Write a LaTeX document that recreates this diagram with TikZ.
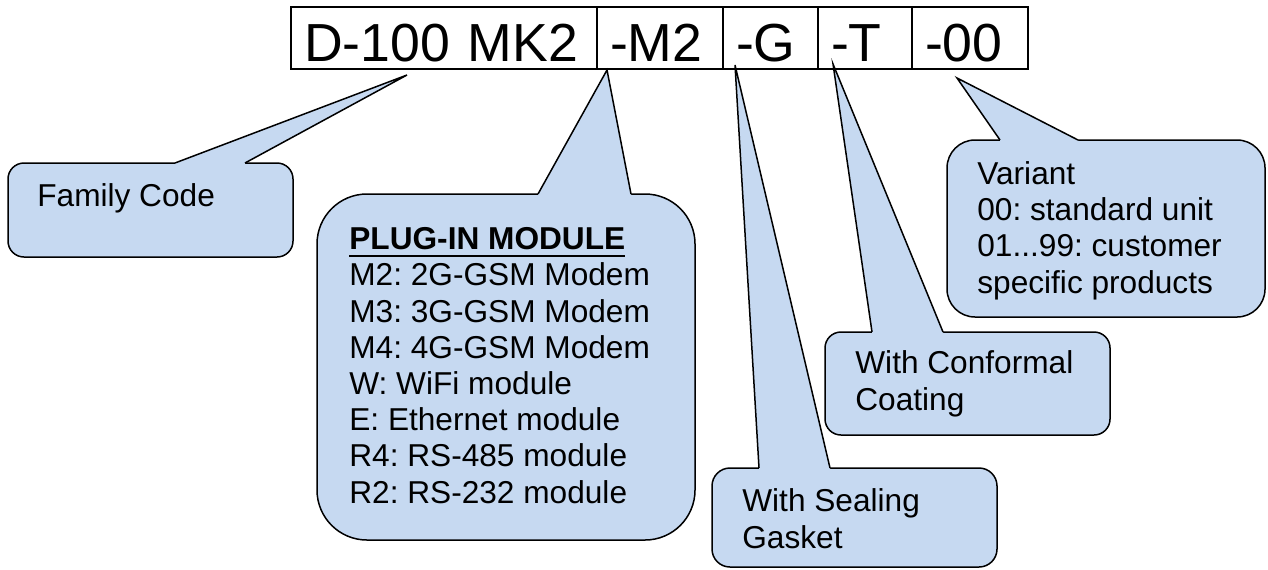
\documentclass[tikz,border=0pt]{standalone}
\usepackage{fontspec}
\setmainfont{Liberation Sans}
\usetikzlibrary{calc,positioning}
\definecolor{calloutblue}{HTML}{C6D9F1}
\frenchspacing
\newcommand{\ultext}[1]{\setbox0\hbox{#1}\rlap{\rule[-4pt]{\wd0}{1.1pt}}\box0}
% pointer of a callout: body, left x, right x, tip
\newcommand{\callptr}[4]{%
  \fill[calloutblue] ($(#2,0 |- #1.north)+(0,3)$) -- (#2,0 |- #1.north) -- (#4)
    -- (#3,0 |- #1.north) -- ($(#3,0 |- #1.north)+(0,3)$) -- cycle;
  \draw[pointer] (#2,0 |- #1.north) -- (#4) -- (#3,0 |- #1.north);
}
\tikzset{
  cell/.style={
    draw,
    line width=0.4mm,
    outer sep=0pt,
    minimum height=12.4mm,
    inner xsep=2.6mm,
    inner ysep=0pt,
    align=left,
    text height=27pt,
    text depth=0pt,
    font=\fontsize{30.5}{32}\selectfont
  },
  callbody/.style={
    draw,
    fill=calloutblue,
    line width=0.3mm,
    outer sep=0pt,
    anchor=north west,
    inner sep=0pt
  },
  % anchored at the baseline of the last line
  calltext/.style={
    anchor=base west,
    inner sep=0pt,
    align=left,
    font=\fontsize{18}{20.6}\selectfont
  },
  pointer/.style={
    line width=0.3mm,
    line join=miter
  }
}
\begin{document}
\begin{tikzpicture}[x=0.2mm, y=-0.2mm]
    \useasboundingbox (0,0) rectangle (1268,569);
    % the order code
    \node[cell, text width=56mm, anchor=west] (family code) at (291,38) {D-100~MK2};
    \node[cell, text width=20mm, right=0pt of family code] (module code) {-M2};
    \node[cell, text width=13.8mm, right=0pt of module code] (gasket code) {-G};
    \node[cell, text width=13.6mm, right=0pt of gasket code] (coating code) {-T};
    \node[cell, text width=18mm, right=0pt of coating code] (variant code) {-00};
    % tips of the callouts
    \coordinate (family tip) at (407,75);
    \coordinate (module tip) at (607,70);
    \coordinate (gasket tip) at (735,65);
    \coordinate (coating tip) at (833,64);
    \coordinate (variant tip) at (957,78);
    % callout bodies
    \node[callbody, minimum width=57mm, minimum height=18.8mm, rounded corners=3.2mm] (family) at (8,163) {};
    \node[callbody, minimum width=75.6mm, minimum height=69.2mm, rounded corners=10mm] (module) at (317,194) {};
    \node[callbody, minimum width=57mm, minimum height=19.8mm, rounded corners=3.6mm] (gasket) at (712,468) {};
    \node[callbody, minimum width=57mm, minimum height=20.6mm, rounded corners=3.2mm] (coating) at (825,332) {};
    \node[callbody, minimum width=63.6mm, minimum height=35.4mm, rounded corners=5.6mm] (variant) at (947,140) {};
    % pointers
    \callptr{family}{175}{245}{family tip}
    \callptr{module}{538}{631}{module tip}
    \callptr{gasket}{759}{830}{gasket tip}
    \callptr{coating}{872}{943}{coating tip}
    \callptr{variant}{1000}{1078}{variant tip}
    % texts
    \node[calltext] (family text) at (37,206) {Family Code};
    \node[calltext] (module text) at (349,503) {\ultext{\bfseries PLUG-IN MODULE}\\
        M2: 2G-GSM Modem\\ M3: 3G-GSM Modem\\ M4: 4G-GSM Modem\\ W: WiFi module\\
        E: Ethernet module\\ R4: RS-485 module\\ R2: RS-232 module};
    \node[calltext] (gasket text) at (742,548) {With Sealing\\ Gasket};
    \node[calltext] (coating text) at (855,410) {With Conformal\\ Coating};
    \node[calltext] (variant text) at (977,293) {Variant\\ 00: standard unit\\
        01...99: customer\\ specific products};
\end{tikzpicture}
\end{document}
